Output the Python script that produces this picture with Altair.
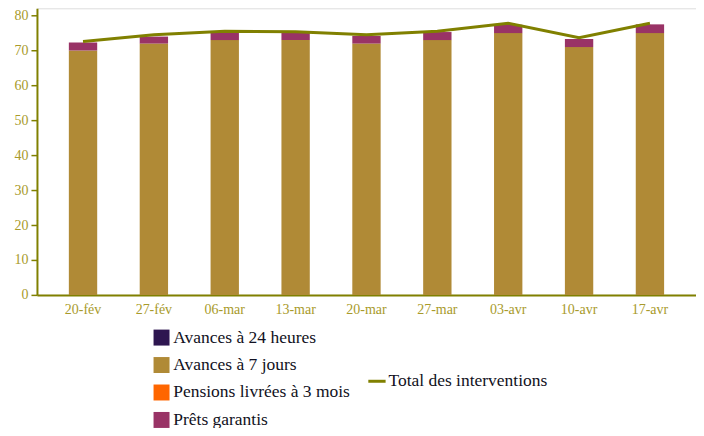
import altair as alt
import pandas as pd

dates = ["20-fév", "27-fév", "06-mar", "13-mar", "20-mar", "27-mar", "03-avr", "10-avr", "17-avr"]
series = ["Avances à 24 heures", "Avances à 7 jours", "Pensions livrées à 3 mois", "Prêts garantis"]
colors = ["#2E1650", "#B08A36", "#FF6600", "#993366"]
av24 = [0, 0, 0, 0, 0, 0, 0, 0, 0]
av7 = [70, 72, 73, 73, 72, 73, 75, 71, 75]
pens = [0, 0, 0, 0, 0, 0, 0, 0, 0]
prets = [2.3, 2.0, 2.1, 2.0, 2.2, 2.3, 2.4, 2.3, 2.5]
total = [72.6, 74.5, 75.5, 75.4, 74.5, 75.5, 77.8, 73.7, 77.8]
y_ticks = [0, 10, 20, 30, 40, 50, 60, 70, 80]

rows = []
for i, d in enumerate(dates):
    for s, vals in zip(series, [av24, av7, pens, prets]):
        rows.append({"date": d, "serie": s, "valeur": vals[i], "ordre": series.index(s)})
bars_df = pd.DataFrame(rows)
line_df = pd.DataFrame({"date": dates, "total": total, "serie": ["Total des interventions"] * len(dates)})

label_color = "#A89A2A"
axis_color = "#808000"
font = "Liberation Serif"

x_axis = alt.Axis(labelAngle=0, ticks=False, domainColor=axis_color, domainWidth=2,
                  labelColor=label_color, labelFont=font, labelFontSize=14, labelPadding=8,
                  labelOverlap=False)
y_axis = alt.Axis(values=y_ticks, grid=False, labelOverlap=False,
                  domainColor=axis_color, domainWidth=2, tickColor=axis_color,
                  tickSize=6, tickWidth=1.5, labelColor=label_color, labelFont=font,
                  labelFontSize=14, labelPadding=3)
x_scale = alt.Scale(paddingInner=0.6, paddingOuter=0.45)
y_scale = alt.Scale(domain=[0, 82.1], nice=False)

bars = alt.Chart(bars_df).mark_bar().encode(
    x=alt.X("date:N", sort=dates, title=None, scale=x_scale, axis=x_axis),
    y=alt.Y("valeur:Q", stack="zero", scale=y_scale, title=None, axis=y_axis),
    fill=alt.Fill("serie:N", scale=alt.Scale(domain=series, range=colors), title=None,
                  legend=alt.Legend(orient="none", legendX=116, legendY=321, symbolType="square",
                                    symbolSize=256, symbolStrokeWidth=0, rowPadding=8.5,
                                    labelFont=font, labelFontSize=17.5, labelColor="#111122",
                                    labelOffset=3, labelLimit=400)),
    order=alt.Order("ordre:Q"),
)

line = alt.Chart(line_df).mark_line(interpolate="linear", strokeWidth=3).encode(
    x=alt.X("date:N", sort=dates, title=None, scale=x_scale, axis=x_axis),
    y=alt.Y("total:Q", scale=y_scale, title=None, axis=y_axis),
    stroke=alt.Stroke("serie:N", scale=alt.Scale(range=[axis_color]), title=None,
                      legend=alt.Legend(orient="none", legendX=330, legendY=363, symbolType="stroke",
                                        symbolSize=300, symbolStrokeWidth=3,
                                        labelFont=font, labelFontSize=17.5, labelColor="#111122",
                                        labelOffset=1, labelLimit=400)),
)

chart = alt.layer(bars, line).properties(
    width=660, height=287,
    padding={"left": 29, "top": 0, "right": 0, "bottom": 133},
    autosize=alt.AutoSizeParams(type="none"),
    background="white",
).configure_view(stroke=None).configure(font=font).configure_axis(
    labelFont=font
).configure_legend(labelFont=font)

chart.save("out.html", embed_options={"renderer": "svg", "actions": False})
